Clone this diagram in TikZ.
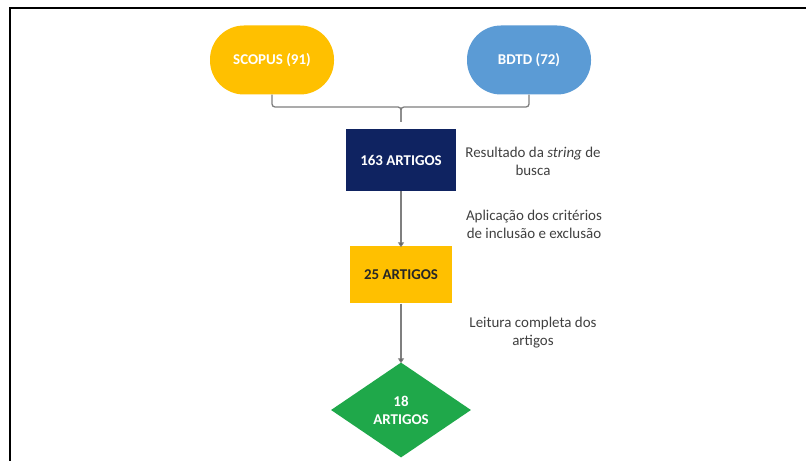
\documentclass[tikz,border=0pt]{standalone}
\usepackage{fontspec}
\setmainfont{Carlito}
\usetikzlibrary{shapes.geometric,arrows.meta}
\definecolor{cyellow}{HTML}{FFC000}
\definecolor{cblue}{HTML}{5B9BD5}
\definecolor{cnavy}{HTML}{0F2361}
\definecolor{cgreen}{HTML}{1FA84A}
\definecolor{cline}{HTML}{7F7F7F}
\definecolor{cdark}{HTML}{262626}
\definecolor{ctext}{HTML}{404040}
\begin{document}
\begin{tikzpicture}[x=1bp,y=-1bp,
  every node/.style={font=\fontsize{15}{18}\selectfont},
  stadium/.style={rectangle, rounded corners=34bp, minimum width=124bp, minimum height=69bp, inner sep=0pt, text=white, font=\fontsize{15}{18}\selectfont\bfseries},
  boxnode/.style={rectangle, inner sep=0pt, font=\fontsize{15}{18}\selectfont\bfseries},
  note/.style={align=center, text=ctext, inner sep=0pt},
  conn/.style={draw=cline, line width=1.3bp},
  arr/.style={conn, -{Triangle[length=5bp,width=6bp,fill=black]}}
]
\useasboundingbox (0,0) rectangle (806,461);
\fill[white] (0,0) rectangle (806,461);
% frame
\draw[line width=2bp, black] (10,461) -- (10,8) -- (806,8);

\node[stadium, fill=cyellow] (scopus) at (272,60) {SCOPUS (91)};
\node[stadium, fill=cblue] (bdtd) at (529,60) {BDTD (72)};

\node[boxnode, fill=cnavy, text=white, minimum width=110bp, minimum height=62bp] (b163) at (401,160) {163 ARTIGOS};
\node[boxnode, fill=cyellow, text=cdark, minimum width=102bp, minimum height=57bp] (b25) at (401,275) {25 ARTIGOS};
\node[diamond, fill=cgreen, text=white, inner sep=0pt, minimum width=140bp, minimum height=95bp, align=center, font=\fontsize{15}{18}\selectfont\bfseries] (b18) at (401,410) {18\\ARTIGOS};

\coordinate (mid) at (401,107);
\coordinate (tip) at (401,122);
\draw[conn, rounded corners=3bp] (scopus.south) |- (mid) -- (tip);
\draw[conn, rounded corners=3bp] (bdtd.south) |- (mid) -- (tip);

\draw[arr] (b163.south) -- ([yshift=-1bp]b25.north);
\draw[arr] (b25.south) -- ([yshift=-1bp]b18.north);

\node[note] (n1) at (533,161) {Resultado da \textit{string} de\\busca};
\node[note] (n2) at (534,224.5) {Aplicação dos critérios\\de inclusão e exclusão};
\node[note] (n3) at (533,333) {Leitura completa dos\\artigos};
\end{tikzpicture}
\end{document}
